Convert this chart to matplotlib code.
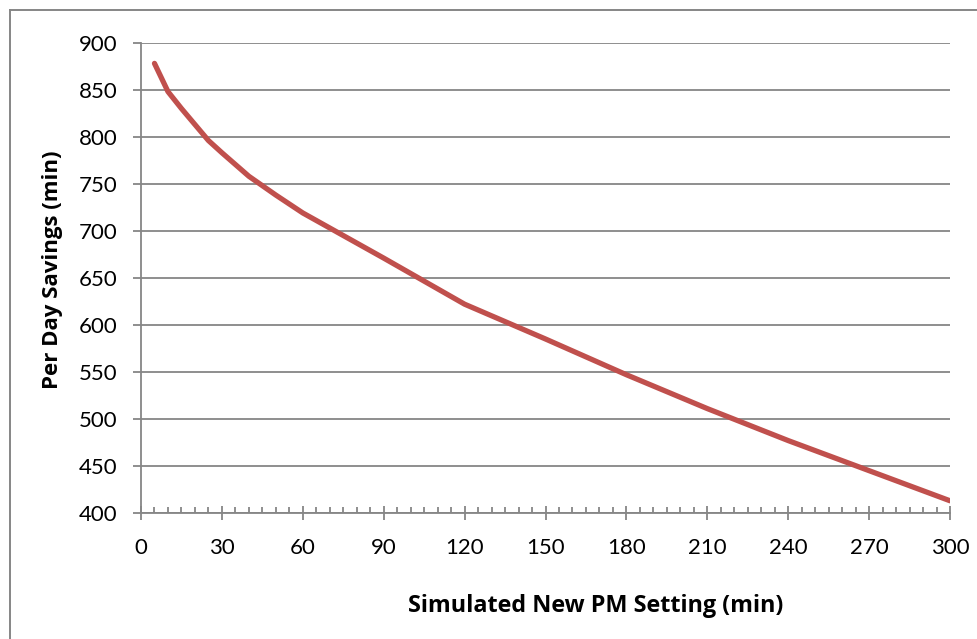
import matplotlib
matplotlib.use("Agg")
import matplotlib.pyplot as plt
from matplotlib.lines import Line2D
from matplotlib.ticker import MultipleLocator

pm_setting = [5, 10, 15, 20, 25, 30, 40, 50, 60, 90, 120, 150, 180, 210, 240, 270, 300]
savings = [878, 848, 830, 813, 796, 783, 758, 738, 719, 671, 622, 585, 547, 511, 477, 445, 413]

x_ticks = [0, 30, 60, 90, 120, 150, 180, 210, 240, 270, 300]
y_ticks = [400, 450, 500, 550, 600, 650, 700, 750, 800, 850, 900]

plt.rcParams['font.family'] = ['Lato', 'DejaVu Sans']

W, H = 977, 639
fig = plt.figure(figsize=(W / 100, H / 100), dpi=100)
# chart frame (only top and left edges fall inside the image)
fig.add_artist(Line2D([10 / W, 10 / W], [0, 1 - 10 / H], transform=fig.transFigure,
                      color='#868686', linewidth=1.4))
fig.add_artist(Line2D([10 / W, 1], [1 - 10 / H, 1 - 10 / H], transform=fig.transFigure,
                      color='#868686', linewidth=1.4))

ax = fig.add_axes([141 / W, 1 - 513 / H, (950 - 141) / W, (513 - 42.7) / H])
ax.plot(pm_setting, savings, color='#C0504D', linewidth=3.8, solid_capstyle='round', zorder=3)

ax.set_xlim(0, 300)
ax.set_ylim(400, 900)
ax.set_xticks(x_ticks)
ax.set_yticks(y_ticks)
ax.xaxis.set_minor_locator(MultipleLocator(5))

ax.grid(axis='y', color='#868686', linewidth=1.3)
ax.set_axisbelow(True)
for s in ['top', 'right']:
    ax.spines[s].set_visible(False)
for s in ['left', 'bottom']:
    ax.spines[s].set_color('#868686')
    ax.spines[s].set_linewidth(1.3)

ax.tick_params(axis='y', which='major', direction='out', length=6, width=1.3, color='#868686',
               labelsize=16, pad=11, labelcolor='black')
ax.tick_params(axis='x', which='major', direction='inout', length=10, width=1.3, color='#868686',
               labelsize=16, pad=13, labelcolor='black')
ax.tick_params(axis='x', which='minor', direction='in', length=4, width=1.3, color='#868686')

ax.set_xlabel('Simulated New PM Setting (min)', fontsize=16.8, fontweight='bold',
              family=['Open Sans', 'DejaVu Sans'])
ax.set_ylabel('Per Day Savings (min)', fontsize=16, fontweight='bold',
              family=['Open Sans', 'DejaVu Sans'])
ax.xaxis.label.set_va('center')
ax.yaxis.label.set_va('center')
ax.xaxis.set_label_coords((596 - 141) / (950 - 141), (513 - 606) / (513 - 42.7))
ax.yaxis.set_label_coords((53 - 141) / (950 - 141), (513 - 270) / (513 - 42.7))

fig.savefig('out.png', dpi=100)
